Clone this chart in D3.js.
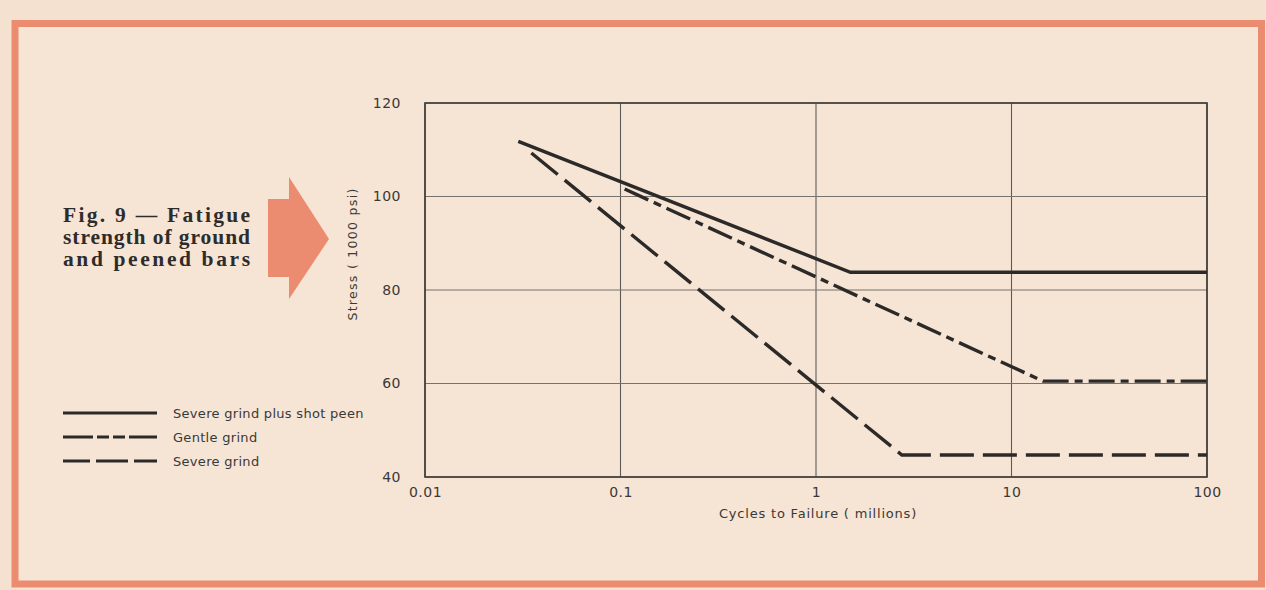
<!DOCTYPE html>
<html>
<head>
<meta charset="utf-8">
<script src="https://cdn.jsdelivr.net/npm/d3@7"></script>
<style>
  html, body { margin: 0; padding: 0; background: #f4e1d0; }
  svg { display: block; }
</style>
</head>
<body>
<svg id="chart" width="1266" height="590"></svg>
<script>
// ---- data ----
const xTicks = [0.01, 0.1, 1, 10, 100];
const xTickLabels = ["0.01", "0.1", "1", "10", "100"];
const yTicks = [40, 60, 80, 100, 120];
const seriesNames = ["Severe grind plus shot peen", "Gentle grind", "Severe grind"];
const peenCycles = [0.03, 1.5, 100];
const peenStress = [111.8, 83.8, 83.8];
const gentleCycles = [0.105, 14.5, 100];
const gentleStress = [101.6, 60.5, 60.5];
const severeCycles = [0.035, 2.75, 100];
const severeStress = [109.3, 44.7, 44.7];
const titleLines = ["Fig. 9 \u2014 Fatigue", "strength of ground", "and peened bars"];
const xTitle = "Cycles to Failure ( millions)";
const yTitle = "Stress ( 1000 psi)";

(function () {
// ---- layout ----
const svg = d3.select("#chart");
const ink = "#2b2a28";
const salmon = "#eb8b6f";
const pL = 425, pR = 1207, pT = 103, pB = 477;

svg.append("rect").attr("width", 1266).attr("height", 590).attr("fill", "#f4e1d0");
svg.append("rect").attr("x", 15).attr("y", 23.5).attr("width", 1246.5).attr("height", 560.5)
  .attr("fill", "#f6e4d5").attr("stroke", salmon).attr("stroke-width", 7);

const x = d3.scaleLog().domain([0.01, 100]).range([pL, pR]);
const y = d3.scaleLinear().domain([40, 120]).range([pB, pT]);

// gridlines
const grid = svg.append("g");
grid.selectAll("line.v").data(xTicks).join("line").attr("class", "v")
  .attr("x1", d => x(d)).attr("x2", d => x(d)).attr("y1", pT).attr("y2", pB)
  .attr("stroke", "#5e5c58").attr("stroke-width", 1.1);
grid.selectAll("line.h").data(yTicks).join("line").attr("class", "h")
  .attr("x1", pL).attr("x2", pR).attr("y1", d => y(d)).attr("y2", d => y(d))
  .attr("stroke", "#76736e").attr("stroke-width", 1);
svg.append("rect").attr("x", pL).attr("y", pT).attr("width", pR - pL).attr("height", pB - pT)
  .attr("fill", "none").attr("stroke", "#3d3b38").attr("stroke-width", 1.6);

// axes (labels only)
const tickFont = "'DejaVu Sans', sans-serif";
const xAxis = svg.append("g").attr("transform", `translate(0,${pB})`)
  .call(d3.axisBottom(x).tickValues(xTicks).tickSize(0).tickPadding(10)
    .tickFormat((d, i) => xTickLabels[i]));
const yAxis = svg.append("g").attr("transform", `translate(${pL},0)`)
  .call(d3.axisLeft(y).tickValues(yTicks).tickSize(0).tickPadding(24));
[xAxis, yAxis].forEach(a => {
  a.select(".domain").remove();
  a.selectAll("text").attr("font-family", tickFont).attr("font-size", 14)
    .attr("fill", "#3a3936").attr("letter-spacing", 0.5);
});

svg.append("text").attr("x", x(1) + 2).attr("y", 518).attr("text-anchor", "middle")
  .attr("font-family", tickFont).attr("font-size", 13).attr("fill", "#3a3936")
  .attr("letter-spacing", 0.8).text(xTitle);
svg.append("text").attr("transform", `translate(357,254) rotate(-90)`)
  .attr("text-anchor", "middle").attr("font-family", tickFont).attr("font-size", 12.5)
  .attr("fill", "#3a3936").attr("letter-spacing", 1.3).text(yTitle);

// series
const dashes = ["none", "26,6,8,6", "34,9"];
const series = [
  { name: seriesNames[0], cx: peenCycles, sy: peenStress },
  { name: seriesNames[1], cx: gentleCycles, sy: gentleStress },
  { name: seriesNames[2], cx: severeCycles, sy: severeStress }
];
const line = d3.line().x(d => x(d[0])).y(d => y(d[1]));
series.forEach((s, i) => {
  const pts = s.cx.map((c, j) => [c, s.sy[j]]);
  svg.append("path").attr("d", line(pts)).attr("fill", "none")
    .attr("stroke", ink).attr("stroke-width", 3.4)
    .attr("stroke-dasharray", dashes[i]);
});

// legend
const lg = svg.append("g");
series.forEach((s, i) => {
  const ly = 413 + i * 24;
  lg.append("line").attr("x1", 63).attr("x2", 157).attr("y1", ly).attr("y2", ly)
    .attr("stroke", ink).attr("stroke-width", 3.2)
    .attr("stroke-dasharray", i === 0 ? "none" : (i === 1 ? "30,4,12,4,12,4,30" : "27,6,32,6,30"));
  lg.append("text").attr("x", 173).attr("y", ly + 5)
    .attr("font-family", tickFont).attr("font-size", 13).attr("fill", "#3a3936")
    .attr("letter-spacing", 0.3).text(s.name);
});

// title
titleLines.forEach((t, i) => {
  svg.append("text").attr("x", 63).attr("y", 222 + i * 22)
    .attr("font-family", "'Liberation Serif', serif").attr("font-weight", "bold")
    .attr("font-size", 21.5).attr("fill", "#2e2c2a")
    .attr("textLength", 187).attr("lengthAdjust", "spacing").text(t);
});

// arrow
svg.append("path")
  .attr("d", "M268,199 L289,199 L289,177 L329,239 L289,299 L289,277 L268,277 Z")
  .attr("fill", salmon);
})();
</script>
</body>
</html>
